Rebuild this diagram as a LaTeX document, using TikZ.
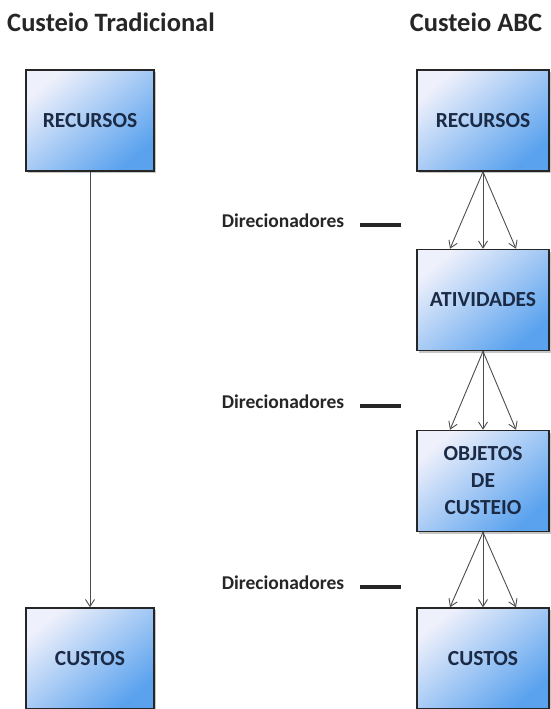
\documentclass[tikz,border=0pt]{standalone}
\usepackage{fontspec}
\setmainfont{Carlito}
\usetikzlibrary{arrows.meta,shadows}
\definecolor{boxlight}{HTML}{EEF0FB}
\definecolor{boxdark}{HTML}{5AA2EE}
\definecolor{boxtext}{HTML}{1B2A45}
\definecolor{inktext}{HTML}{262626}
\begin{document}
\begin{tikzpicture}[x=1pt, y=-1pt,
        box/.style={draw=black!85, line width=1.5pt, top color=boxlight, bottom color=boxdark,
            shading angle=40, minimum width=128pt, minimum height=101pt, inner sep=2pt,
            align=center, text=boxtext, font=\fontsize{21.5}{27}\selectfont\bfseries,
            drop shadow={shadow xshift=2pt, shadow yshift=-2pt, opacity=0.45}},
        heading/.style={text=inktext, font=\fontsize{26.5}{30}\selectfont\bfseries},
        driver/.style={text=inktext, font=\fontsize{19.5}{22}\selectfont\bfseries},
        flow/.style={draw=black!70, line width=0.9pt, -{Straight Barb[length=7pt,width=9pt]}},
        push/.style={draw=black!85, line width=3.6pt}
    ]
    \useasboundingbox (0,0) rectangle (551,709);
    \node[heading] (titletrad) at (111,22) {Custeio Tradicional};
    \node[heading] (titleabc)  at (476,22) {Custeio ABC};

    \node[box] (rec1)  at (90,120.5) {RECURSOS};
    \node[box] (cus1)  at (90,658.5) {CUSTOS};

    \node[box, minimum width=132pt] (rec2) at (483,120.5) {RECURSOS};
    \node[box, minimum width=132pt] (ativ) at (483,300) {ATIVIDADES};
    \node[box, minimum width=132pt] (obj)  at (483,481) {OBJETOS\\DE\\CUSTEIO};
    \node[box, minimum width=132pt] (cus2) at (483,658.5) {CUSTOS};

    \draw[flow] (rec1) -- (cus1);

    \draw[flow] (rec2.south) -- ([xshift=-33pt]ativ.north);
    \draw[flow] (rec2.south) -- (ativ.north);
    \draw[flow] (rec2.south) -- ([xshift=33pt]ativ.north);
    \draw[flow] (ativ.south) -- ([xshift=-33pt]obj.north);
    \draw[flow] (ativ.south) -- (obj.north);
    \draw[flow] (ativ.south) -- ([xshift=33pt]obj.north);
    \draw[flow] (obj.south) -- ([xshift=-33pt]cus2.north);
    \draw[flow] (obj.south) -- (cus2.north);
    \draw[flow] (obj.south) -- ([xshift=33pt]cus2.north);

    \node[driver] (dir1) at (283,221) {Direcionadores};
    \node[driver] (dir2) at (283,402) {Direcionadores};
    \node[driver] (dir3) at (283,583) {Direcionadores};
    \coordinate (end1) at (401,225);
    \coordinate (end2) at (401,406);
    \coordinate (end3) at (401,587);
    \draw[push] ([xshift=12pt]dir1.east |- end1) -- (end1);
    \draw[push] ([xshift=12pt]dir2.east |- end2) -- (end2);
    \draw[push] ([xshift=12pt]dir3.east |- end3) -- (end3);
\end{tikzpicture}
\end{document}
